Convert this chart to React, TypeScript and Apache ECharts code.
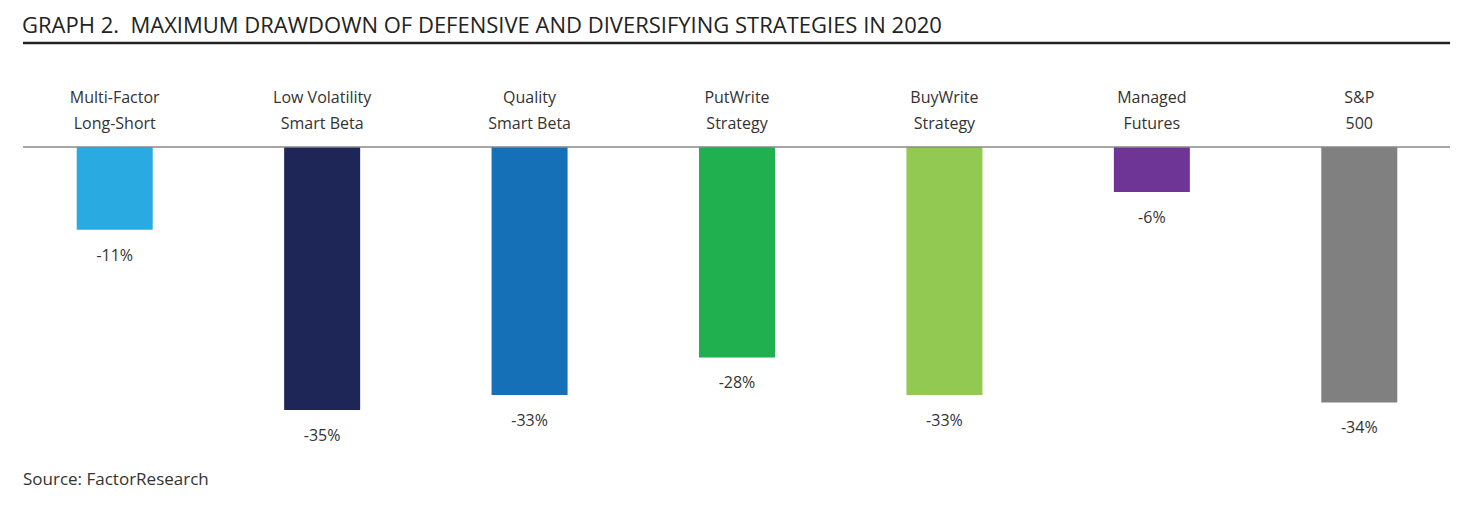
import React, { useEffect, useRef } from "react";
import * as echarts from "echarts";

const categories = [
  "Multi-Factor\nLong-Short",
  "Low Volatility\nSmart Beta",
  "Quality\nSmart Beta",
  "PutWrite\nStrategy",
  "BuyWrite\nStrategy",
  "Managed\nFutures",
  "S&P\n500",
];
const drawdowns = [-11, -35, -33, -28, -33, -6, -34];
const barColors = ["#29ABE2", "#1E2657", "#1570B8", "#21B04F", "#92C953", "#6E3597", "#808080"];
const titleText = "GRAPH 2.  MAXIMUM DRAWDOWN OF DEFENSIVE AND DIVERSIFYING STRATEGIES IN 2020";
const sourceText = "Source: FactorResearch";

export default function App() {
  const ref = useRef<HTMLDivElement>(null);
  useEffect(() => {
    if (!ref.current) return;
    const chart = echarts.init(ref.current, null, { renderer: "svg" });
    const font = "'Open Sans', sans-serif";
    chart.setOption({
      animation: false,
      backgroundColor: "#ffffff",
      textStyle: { fontFamily: font },
      grid: { left: 11, right: 2, top: 147, height: 263, containLabel: false },
      xAxis: {
        type: "category",
        data: categories,
        position: "top",
        axisLine: { show: false },
        axisTick: { show: false },
        axisLabel: {
          color: "#333333",
          fontSize: 16,
          lineHeight: 26,
          margin: 11,
          fontFamily: font,
          interval: 0,
        },
      },
      yAxis: {
        type: "value",
        min: -35,
        max: 0,
        show: false,
      },
      graphic: [
        {
          type: "text",
          left: 22,
          top: 13,
          style: { text: titleText, fontSize: 22, fill: "#222222", fontFamily: font },
        },
        {
          type: "line",
          shape: { x1: 23, y1: 43, x2: 1450, y2: 43 },
          style: { stroke: "#222222", lineWidth: 2.5 },
        },
        {
          type: "line",
          shape: { x1: 23, y1: 147, x2: 1450, y2: 147 },
          style: { stroke: "#888888", lineWidth: 1.5 },
          z: 10,
        },
        {
          type: "text",
          left: 23,
          top: 470,
          style: { text: sourceText, fontSize: 17, fill: "#333333", fontFamily: font },
        },
      ],
      series: [
        {
          type: "bar",
          barWidth: 76,
          data: drawdowns.map((v, i) => ({ value: v, itemStyle: { color: barColors[i] } })),
          label: {
            show: true,
            position: "bottom",
            distance: 17,
            color: "#333333",
            fontSize: 16,
            fontFamily: font,
            formatter: (p: any) => `${p.value}%`,
          },
        },
      ],
    });
    return () => chart.dispose();
  }, []);
  return (
    <div
      ref={ref}
      style={{ position: "fixed", left: 0, top: 0, width: 1465, height: 512 }}
    />
  );
}
